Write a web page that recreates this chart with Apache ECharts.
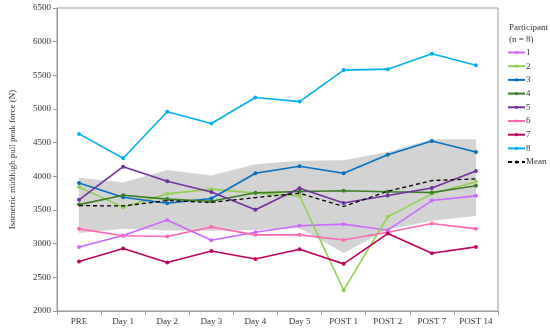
<!DOCTYPE html>
<html>
<head>
<meta charset="utf-8">
<script src="https://cdn.jsdelivr.net/npm/echarts@6/dist/echarts.min.js"></script>
<style>html,body{margin:0;padding:0;background:#fff}#c{width:550px;height:328px}</style>
</head>
<body>
<div id="c"></div>
<script>
const categories = ['PRE','Day 1','Day 2','Day 3','Day 4','Day 5','POST 1','POST 2','POST 7','POST 14'];
const p1 = [2950, 3120, 3350, 3050, 3170, 3265, 3290, 3200, 3640, 3710];
const p2 = [3840, 3540, 3740, 3810, 3750, 3710, 2310, 3400, 3740, 3920];
const p3 = [3900, 3690, 3600, 3670, 4045, 4150, 4045, 4320, 4525, 4360];
const p4 = [3580, 3720, 3662, 3630, 3755, 3775, 3786, 3770, 3760, 3860];
const p5 = [3652, 4143, 3927, 3768, 3503, 3824, 3603, 3716, 3828, 4079];
const p6 = [3220, 3118, 3106, 3248, 3131, 3131, 3055, 3170, 3300, 3220];
const p7 = [2734, 2927, 2720, 2890, 2772, 2918, 2700, 3150, 2858, 2952];
const p8 = [4630, 4268, 4960, 4785, 5170, 5110, 5578, 5592, 5822, 5650];
const mean = [3565, 3560, 3640, 3612, 3685, 3748, 3552, 3778, 3937, 3962];
const bandUpper = [3980, 3910, 4095, 4012, 4180, 4230, 4240, 4360, 4550, 4550];
const bandLower = [3158, 3222, 3195, 3190, 3202, 3230, 2862, 3212, 3340, 3412];
const yTicks = [2000, 2500, 3000, 3500, 4000, 4500, 5000, 5500, 6000, 6500];

const names = ['1','2','3','4','5','6','7','8'];
const colors = ['#CC66FF','#92D050','#0070C0','#3A7D22','#7030A0','#FF66B3','#C00060','#00B0F0'];
const partData = [p1,p2,p3,p4,p5,p6,p7,p8];

const serif = 'Liberation Serif';
const series = [
  {name:'bandLow', type:'line', data:bandLower, stack:'band', symbol:'none', lineStyle:{opacity:0}, silent:true, z:1},
  {name:'bandRange', type:'line', data:bandUpper.map((v,i)=>v-bandLower[i]), stack:'band', symbol:'none',
   lineStyle:{opacity:0}, areaStyle:{color:'#D3D3D3', opacity:1}, silent:true, z:1}
];
partData.forEach((d,i)=>{
  series.push({name:names[i], type:'line', data:d, symbol:'circle', symbolSize:4,
    itemStyle:{color:colors[i]}, lineStyle:{color:colors[i], width:1.6}, z:3});
});
series.push({name:'Mean', type:'line', data:mean, symbol:'none',
  itemStyle:{color:'#000'}, lineStyle:{color:'#000', width:1.3, type:[4,3]}, z:4});

const chart = echarts.init(document.getElementById('c'));
chart.setOption({
  animation:false,
  backgroundColor:'#fff',
  textStyle:{fontFamily:serif},
  grid:{left:52, right:52, top:8, bottom:17, show:true, borderColor:'#999', borderWidth:1},
  graphic:[
    {type:'text', left:509, top:23, style:{text:'Participant', font:'9px "Liberation Serif"', fill:'#333'}},
    {type:'text', left:509, top:35, style:{text:'(n = 8)', font:'9px "Liberation Serif"', fill:'#333'}}
  ],
  legend:{
    data:names.concat(['Mean']), orient:'vertical', left:507, top:43, padding:[5,0,5,0],
    itemWidth:17, itemHeight:4, itemGap:4.7,
    textStyle:{fontFamily:serif, fontSize:9, color:'#333', padding:[0,0,0,-4]}
  },
  xAxis:{type:'category', data:categories, boundaryGap:true,
    axisLine:{lineStyle:{color:'#999'}}, axisTick:{show:true, length:4, lineStyle:{color:'#999'}},
    axisLabel:{fontFamily:serif, fontSize:9, color:'#333', margin:6, interval:0}},
  yAxis:{type:'value', min:yTicks[0], max:yTicks[yTicks.length-1], interval:500,
    name:'Isometric midthigh pull peak force (N)', nameLocation:'middle', nameGap:40,
    nameTextStyle:{fontFamily:serif, fontSize:9, color:'#333'},
    axisLine:{show:true, lineStyle:{color:'#999'}}, axisTick:{show:true, length:4, lineStyle:{color:'#999'}},
    splitLine:{show:false},
    axisLabel:{fontFamily:serif, fontSize:9, color:'#333', margin:6, formatter:v=>String(v)}},
  series:series
});
</script>
</body>
</html>
